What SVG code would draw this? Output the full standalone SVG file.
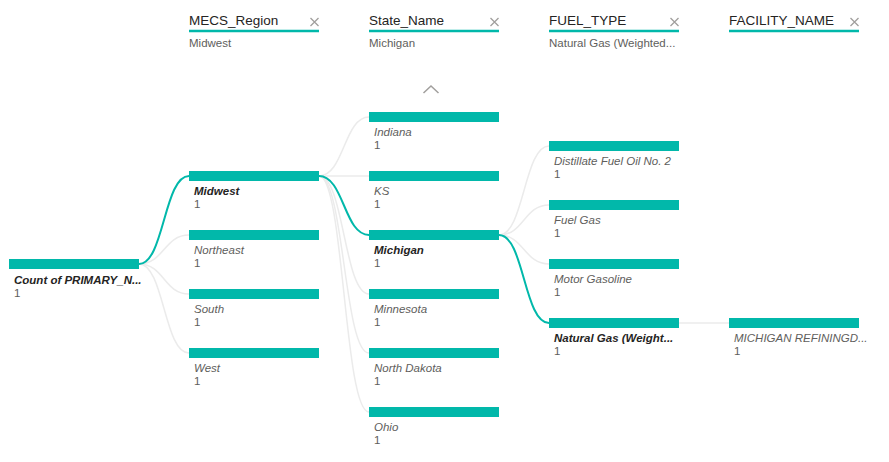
<svg xmlns="http://www.w3.org/2000/svg" width="889" height="462" viewBox="0 0 889 462">
<style>
text{font-family:"Liberation Sans","Noto Sans",sans-serif}
.bar{fill:#01B8AA}
.hdr{font-size:13.5px;fill:#252423}
.sub{font-size:11.5px;fill:#605E5C}
.ul{stroke:#01B8AA;stroke-width:2.5}
.x{stroke:#a19f9d;stroke-width:1.3;fill:none}
.lbl{font-size:11.5px;font-style:italic;fill:#605E5C}
.sel{font-size:11.5px;font-style:italic;font-weight:bold;fill:#252423}
.val{font-size:11.5px;fill:#605E5C}
.c{fill:none;stroke:#ebebeb;stroke-width:1.5}
.ct{fill:none;stroke:#01B8AA;stroke-width:2}
</style>
<rect width="889" height="462" fill="#ffffff"/>

<g id="headers">
  <g id="hdr-region">
    <text class="hdr" x="189" y="25">MECS_Region</text>
    <line class="ul" x1="189" y1="31" x2="319" y2="31"/>
    <path class="x" d="M310.5 18 L318.5 26 M318.5 18 L310.5 26"/>
    <text class="sub" x="189" y="47">Midwest</text>
  </g>
  <g id="hdr-state">
    <text class="hdr" x="369" y="25">State_Name</text>
    <line class="ul" x1="369" y1="31" x2="499" y2="31"/>
    <path class="x" d="M490.5 18 L498.5 26 M498.5 18 L490.5 26"/>
    <text class="sub" x="369" y="47">Michigan</text>
  </g>
  <g id="hdr-fuel">
    <text class="hdr" x="549" y="25">FUEL_TYPE</text>
    <line class="ul" x1="549" y1="31" x2="679" y2="31"/>
    <path class="x" d="M670.5 18 L678.5 26 M678.5 18 L670.5 26"/>
    <text class="sub" x="549" y="47">Natural Gas (Weighted...</text>
  </g>
  <g id="hdr-facility">
    <text class="hdr" x="729" y="25">FACILITY_NAME</text>
    <line class="ul" x1="729" y1="31" x2="859" y2="31"/>
    <path class="x" d="M850.5 18 L858.5 26 M858.5 18 L850.5 26"/>
  </g>
  <polyline id="caret" points="423.5,93 431,86 438.5,93" fill="none" stroke="#a19f9d" stroke-width="1.5"/>
</g>

<g id="connectors">
  <path class="c" d="M139 264 C164 264 164 235 189 235"/>
  <path class="c" d="M139 264 C164 264 164 294 189 294"/>
  <path class="c" d="M139 264 C164 264 164 353 189 353"/>
  <path class="c" d="M319 176 C344 176 344 117 369 117"/>
  <path class="c" d="M319 176 L369 176"/>
  <path class="c" d="M319 176 C344 176 344 294 369 294"/>
  <path class="c" d="M319 176 C344 176 344 353 369 353"/>
  <path class="c" d="M319 176 C344 176 344 412 369 412"/>
  <path class="c" d="M499 235 C524 235 524 146 549 146"/>
  <path class="c" d="M499 235 C524 235 524 205 549 205"/>
  <path class="c" d="M499 235 C524 235 524 264 549 264"/>
  <path class="c" d="M679 323 L729 323"/>
  <path class="ct" d="M139 264 C164 264 164 176 189 176"/>
  <path class="ct" d="M319 176 C344 176 344 235 369 235"/>
  <path class="ct" d="M499 235 C524 235 524 323 549 323"/>
</g>

<g id="node-root">
  <rect class="bar" x="9" y="259" width="130" height="10"/>
  <text class="sel" x="14" y="284">Count of PRIMARY_N...</text>
  <text class="val" x="14" y="297">1</text>
</g>

<g id="node-midwest">
  <rect class="bar" x="189" y="171" width="130" height="10"/>
  <text class="sel" x="194" y="195">Midwest</text>
  <text class="val" x="194" y="208">1</text>
</g>
<g id="node-northeast">
  <rect class="bar" x="189" y="230" width="130" height="10"/>
  <text class="lbl" x="194" y="254">Northeast</text>
  <text class="val" x="194" y="267">1</text>
</g>
<g id="node-south">
  <rect class="bar" x="189" y="289" width="130" height="10"/>
  <text class="lbl" x="194" y="313">South</text>
  <text class="val" x="194" y="326">1</text>
</g>
<g id="node-west">
  <rect class="bar" x="189" y="348" width="130" height="10"/>
  <text class="lbl" x="194" y="372">West</text>
  <text class="val" x="194" y="385">1</text>
</g>

<g id="node-indiana">
  <rect class="bar" x="369" y="112" width="130" height="10"/>
  <text class="lbl" x="374" y="136">Indiana</text>
  <text class="val" x="374" y="149">1</text>
</g>
<g id="node-ks">
  <rect class="bar" x="369" y="171" width="130" height="10"/>
  <text class="lbl" x="374" y="195">KS</text>
  <text class="val" x="374" y="208">1</text>
</g>
<g id="node-michigan">
  <rect class="bar" x="369" y="230" width="130" height="10"/>
  <text class="sel" x="374" y="254">Michigan</text>
  <text class="val" x="374" y="267">1</text>
</g>
<g id="node-minnesota">
  <rect class="bar" x="369" y="289" width="130" height="10"/>
  <text class="lbl" x="374" y="313">Minnesota</text>
  <text class="val" x="374" y="326">1</text>
</g>
<g id="node-northdakota">
  <rect class="bar" x="369" y="348" width="130" height="10"/>
  <text class="lbl" x="374" y="372">North Dakota</text>
  <text class="val" x="374" y="385">1</text>
</g>
<g id="node-ohio">
  <rect class="bar" x="369" y="407" width="130" height="10"/>
  <text class="lbl" x="374" y="431">Ohio</text>
  <text class="val" x="374" y="444">1</text>
</g>

<g id="node-distillate">
  <rect class="bar" x="549" y="141" width="130" height="10"/>
  <text class="lbl" x="554" y="165">Distillate Fuel Oil No. 2</text>
  <text class="val" x="554" y="178">1</text>
</g>
<g id="node-fuelgas">
  <rect class="bar" x="549" y="200" width="130" height="10"/>
  <text class="lbl" x="554" y="224">Fuel Gas</text>
  <text class="val" x="554" y="237">1</text>
</g>
<g id="node-motorgasoline">
  <rect class="bar" x="549" y="259" width="130" height="10"/>
  <text class="lbl" x="554" y="283">Motor Gasoline</text>
  <text class="val" x="554" y="296">1</text>
</g>
<g id="node-naturalgas">
  <rect class="bar" x="549" y="318" width="130" height="10"/>
  <text class="sel" x="554" y="342">Natural Gas (Weight...</text>
  <text class="val" x="554" y="355">1</text>
</g>

<g id="node-facility">
  <rect class="bar" x="729" y="318" width="130" height="10"/>
  <text class="lbl" x="734" y="342">MICHIGAN REFININGD...</text>
  <text class="val" x="734" y="355">1</text>
</g>
</svg>
